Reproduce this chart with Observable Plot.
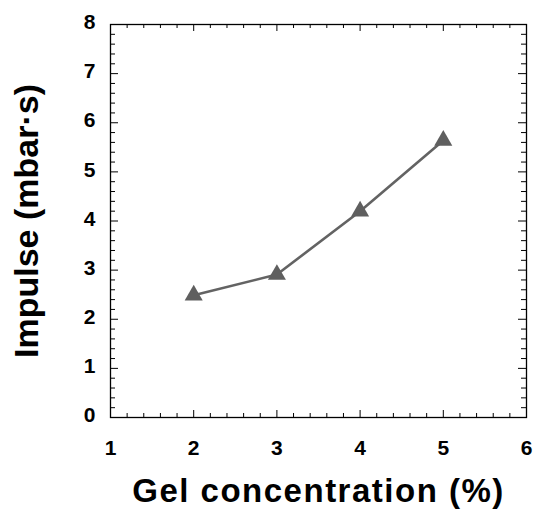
<!DOCTYPE html>
<html><head><meta charset="utf-8">
<script src="https://cdn.jsdelivr.net/npm/d3@7"></script>
<script src="https://cdn.jsdelivr.net/npm/@observablehq/plot@0.6"></script>
<style>body{margin:0;background:#fff} svg{display:block}</style>
</head><body><div id="chart"></div>
<script>
const concentration = [2, 3, 4, 5];
const impulse = [2.49, 2.91, 4.2, 5.64];
const xTicks = [1, 2, 3, 4, 5, 6];
const yTicks = [0, 1, 2, 3, 4, 5, 6, 7, 8];
const xLabel = "Gel concentration (%)";
const yLabel = "Impulse (mbar·s)";

const data = concentration.map((c, i) => ({c, v: impulse[i]}));
const notMajor = v => Math.abs(v - Math.round(v)) > 1e-6;
const xMinor = d3.range(1, 6.0001, 0.2).filter(notMajor);
const yMinor = d3.range(0, 8.0001, 0.2).filter(notMajor);

const W = 543, H = 511, mL = 110, mR = 17, mT = 24, mB = 94;
const iw = W - mL - mR, ih = H - mT - mB;
const major = 7, minor = 4;
const font = "'Liberation Sans', Arial, sans-serif";

const svg = Plot.plot({
  width: W, height: H,
  marginLeft: mL, marginRight: mR, marginTop: mT, marginBottom: mB,
  style: {fontFamily: font, fontSize: "21px", fontWeight: "bold", color: "#000", background: "#fff"},
  x: {domain: [1, 6], label: null},
  y: {domain: [0, 8], label: null},
  marks: [
    // tick marks (inward, all four sides)
    Plot.tickX(xTicks, {x: d => d, insetTop: ih - major, stroke: "#000"}),
    Plot.tickX(xTicks, {x: d => d, insetBottom: ih - major, stroke: "#000"}),
    Plot.tickX(xMinor, {x: d => d, insetTop: ih - minor, stroke: "#000"}),
    Plot.tickX(xMinor, {x: d => d, insetBottom: ih - minor, stroke: "#000"}),
    Plot.tickY(yTicks, {y: d => d, insetRight: iw - major - 1, stroke: "#000"}),
    Plot.tickY(yTicks, {y: d => d, insetLeft: iw - major - 1, stroke: "#000"}),
    Plot.tickY(yMinor, {y: d => d, insetRight: iw - minor - 1, stroke: "#000"}),
    Plot.tickY(yMinor, {y: d => d, insetLeft: iw - minor - 1, stroke: "#000"}),
    Plot.frame({stroke: "#000", strokeWidth: 1.3}),
    Plot.axisX({ticks: xTicks, tickFormat: d => String(d), tickSize: 0, tickPadding: 23, label: null}),
    Plot.axisY({ticks: yTicks, tickFormat: d => String(d), tickSize: 0, tickPadding: 15, dy: -2, label: null}),
    Plot.line(data, {x: "c", y: "v", stroke: "#636363", strokeWidth: 2.6}),
    Plot.dot(data, {x: "c", y: "v", symbol: "triangle", r: 6.7, fill: "#5f5f5f", stroke: "none"}),
    Plot.text([xLabel], {text: d => d, frameAnchor: "bottom", textAnchor: "middle", dy: 74, lineAnchor: "middle", fontSize: 33, fontWeight: "bold"}),
    Plot.text([yLabel], {text: d => d, frameAnchor: "left", textAnchor: "middle", rotate: -90, dx: -83, lineAnchor: "middle", fontSize: 34, fontWeight: "bold"})
  ]
});
d3.select(svg).selectAll('[aria-label="x-axis tick label"], [aria-label="y-axis tick label"]')
  .style("font-size", "21px").style("font-weight", "bold")
  .selectAll("text").style("font-size", "21px");
d3.select(svg).selectAll("text").filter(function() { return this.textContent === xLabel; })
  .style("letter-spacing", "1.5px");
document.getElementById("chart").appendChild(svg);
</script>
</body></html>
